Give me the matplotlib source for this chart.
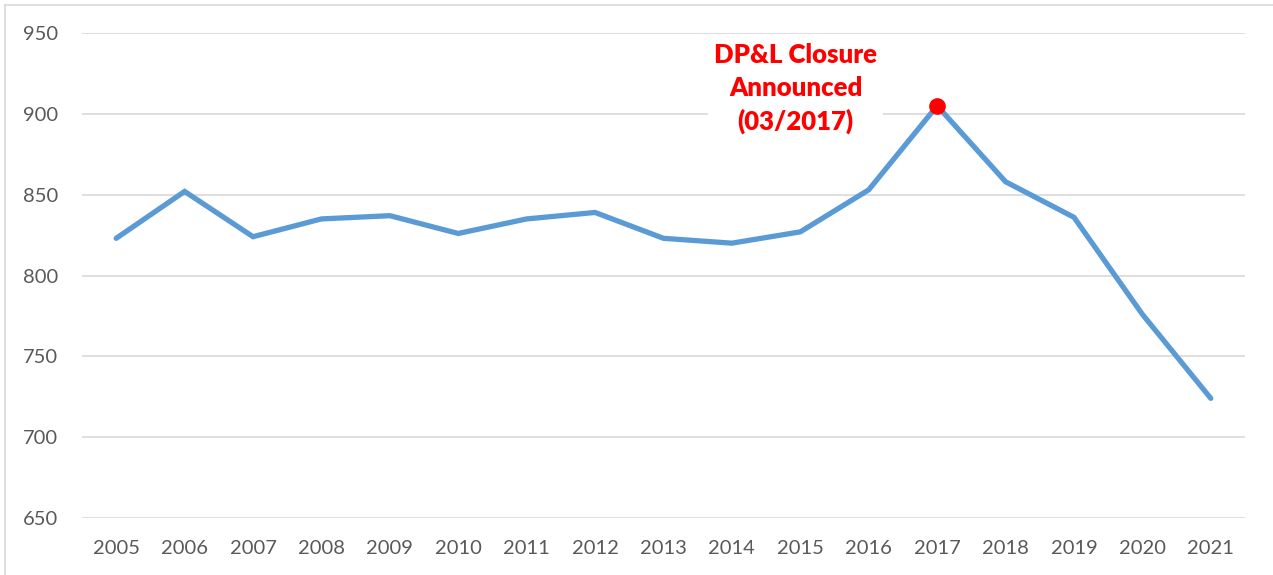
import matplotlib
matplotlib.use('Agg')
import matplotlib.pyplot as plt
from matplotlib.lines import Line2D

years = [str(y) for y in range(2005, 2022)]
values = [823, 852, 824, 835, 837, 826, 835, 839, 823, 820, 827, 853, 905, 858, 836, 776, 724]
highlight_year = '2017'
note = 'DP&L Closure\nAnnounced\n(03/2017)'

plt.rcParams['font.family'] = ['Lato', 'DejaVu Sans']

fig = plt.figure(figsize=(12.73, 5.75), dpi=100)
ax = fig.add_axes([82 / 1273, 1 - 518 / 575, (1245 - 82) / 1273, (518 - 33) / 575])

x = list(range(len(years)))
ax.plot(x, values, color='#5B9BD5', lw=3.8, solid_joinstyle='miter', solid_capstyle='round', zorder=3)

hi = years.index(highlight_year)
ax.plot(x[hi], values[hi], 'o', color='#FF0000', ms=11, zorder=4)
ax.text(x[hi] - 2.07, 915.5, note, color='#FF0000', fontsize=18.5, fontweight='heavy',
        ha='center', va='center', linespacing=1.42, zorder=5,
        bbox=dict(facecolor='white', edgecolor='none', pad=4))

ax.set_xlim(-0.5, len(years) - 0.5)
ax.set_ylim(650, 950)
ax.set_yticks(range(650, 951, 50))
ax.set_xticks(x)
ax.set_xticklabels(years)
ax.grid(axis='y', color='#D9D9D9', lw=1.2)
ax.set_axisbelow(True)
for s in ax.spines.values():
    s.set_visible(False)
ax.tick_params(length=0, labelsize=14.5, labelcolor='#595959')
ax.tick_params(axis='y', pad=17)
ax.tick_params(axis='x', pad=16)

# chart-area border (top and left edges only visible)
fig.add_artist(Line2D([5 / 1273, 1], [1 - 5 / 575, 1 - 5 / 575], color='#D9D9D9', lw=1.2))
fig.add_artist(Line2D([5 / 1273, 5 / 1273], [0, 1 - 5 / 575], color='#D9D9D9', lw=1.2))

fig.savefig('out.png', dpi=100)
